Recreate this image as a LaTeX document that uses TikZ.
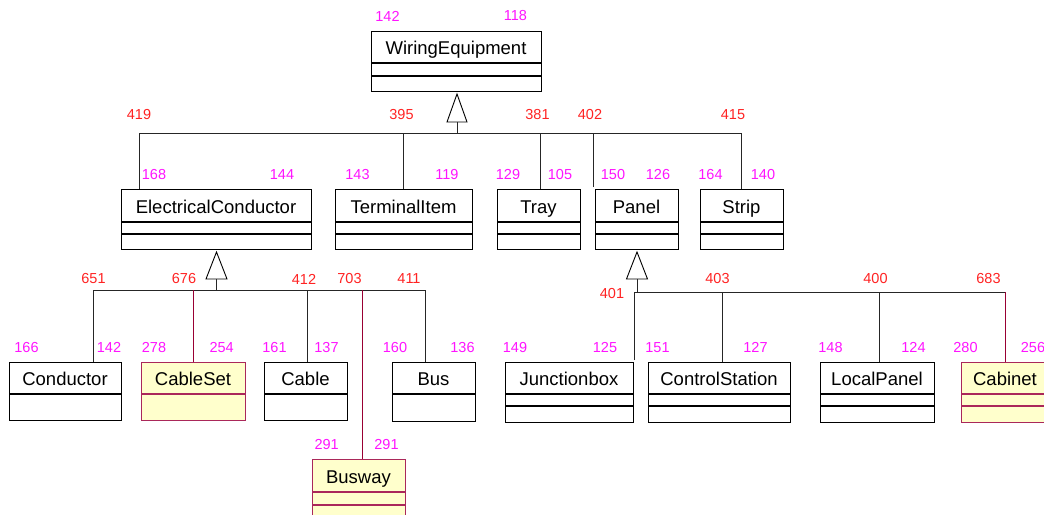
\documentclass[tikz,border=0pt]{standalone}
\usepackage{fontspec}
\setmainfont{Liberation Sans}
\usetikzlibrary{calc}
\definecolor{numred}{RGB}{255,35,35}
\definecolor{nummag}{RGB}{255,20,255}
\definecolor{maroon}{RGB}{153,0,51}
\definecolor{yborder}{RGB}{170,40,90}
\definecolor{cyellow}{RGB}{255,255,204}
\tikzset{
  cname/.style={draw, line width=1pt, inner sep=0pt, anchor=north,
    font=\fontsize{18.5}{20}\selectfont, text height=15pt, text depth=0pt},
  ccomp/.style={draw, line width=1pt, inner sep=0pt, anchor=north},
  yel/.style={fill=cyellow, draw=yborder},
  rnum/.style={text=numred, font=\fontsize{14.5}{16}\selectfont, inner sep=0pt},
  mnum/.style={text=nummag, font=\fontsize{14.5}{16}\selectfont, inner sep=0pt},
  conn/.style={line width=0.9pt, draw=black!85},
  mconn/.style={line width=0.9pt, draw=maroon},
  gen/.style={draw=black, fill=white, line width=0.9pt}
}
\begin{document}
\begin{tikzpicture}[x=1pt,y=-1pt]
\clip (0,0) rectangle (1044,514);
\fill[white] (0,0) rectangle (1044,514);

% ---------- level 0
\node[cname, minimum width=170, minimum height=31] (we) at (456,31) {WiringEquipment};
\node[ccomp, minimum width=170, minimum height=12] (we1) at (we.south) {};
\node[ccomp, minimum width=170, minimum height=15] (we2) at (we1.south) {};

% ---------- level 1
\node[cname, minimum width=190, minimum height=32] (ec) at (216,189) {ElectricalConductor};
\node[ccomp, minimum width=190, minimum height=11] (ec1) at (ec.south) {};
\node[ccomp, minimum width=190, minimum height=15] (ec2) at (ec1.south) {};

\node[cname, minimum width=137, minimum height=32] (ti) at (403.5,189) {TerminalItem};
\node[ccomp, minimum width=137, minimum height=11] (ti1) at (ti.south) {};
\node[ccomp, minimum width=137, minimum height=15] (ti2) at (ti1.south) {};

\node[cname, minimum width=83, minimum height=32] (tr) at (538.5,189) {Tray};
\node[ccomp, minimum width=83, minimum height=11] (tr1) at (tr.south) {};
\node[ccomp, minimum width=83, minimum height=15] (tr2) at (tr1.south) {};

\node[cname, minimum width=83, minimum height=32] (pa) at (636.5,189) {Panel};
\node[ccomp, minimum width=83, minimum height=11] (pa1) at (pa.south) {};
\node[ccomp, minimum width=83, minimum height=15] (pa2) at (pa1.south) {};

\node[cname, minimum width=83, minimum height=32] (st) at (741.5,189) {Strip};
\node[ccomp, minimum width=83, minimum height=11] (st1) at (st.south) {};
\node[ccomp, minimum width=83, minimum height=15] (st2) at (st1.south) {};

% ---------- level 2 (under ElectricalConductor)
\node[cname, minimum width=112, minimum height=31] (co) at (65,362) {Conductor};
\node[ccomp, minimum width=112, minimum height=26] (co1) at (co.south) {};

\node[cname, yel, minimum width=104, minimum height=31] (cs) at (193,362) {CableSet};
\node[ccomp, yel, minimum width=104, minimum height=26] (cs1) at (cs.south) {};

\node[cname, minimum width=83, minimum height=31] (ca) at (305.5,362) {Cable};
\node[ccomp, minimum width=83, minimum height=26] (ca1) at (ca.south) {};

\node[cname, minimum width=83, minimum height=31] (bu) at (433.5,362) {Bus};
\node[ccomp, minimum width=83, minimum height=27] (bu1) at (bu.south) {};

\node[cname, yel, minimum width=93, minimum height=32] (bw) at (358.5,459) {Busway};
\node[ccomp, yel, minimum width=93, minimum height=12] (bw1) at (bw.south) {};
\node[ccomp, yel, minimum width=93, minimum height=16] (bw2) at (bw1.south) {};

% ---------- level 2 (under Panel)
\node[cname, minimum width=128, minimum height=31] (jb) at (569,362) {Junctionbox};
\node[ccomp, minimum width=128, minimum height=11] (jb1) at (jb.south) {};
\node[ccomp, minimum width=128, minimum height=16] (jb2) at (jb1.south) {};

\node[cname, minimum width=142, minimum height=31] (cst) at (719,362) {ControlStation};
\node[ccomp, minimum width=142, minimum height=11] (cst1) at (cst.south) {};
\node[ccomp, minimum width=142, minimum height=16] (cst2) at (cst1.south) {};

\node[cname, minimum width=114, minimum height=31] (lp) at (877,362) {LocalPanel};
\node[ccomp, minimum width=114, minimum height=11] (lp1) at (lp.south) {};
\node[ccomp, minimum width=114, minimum height=16] (lp2) at (lp1.south) {};

\node[cname, yel, minimum width=88, minimum height=31] (cb) at (1005,362) {Cabinet};
\node[ccomp, yel, minimum width=88, minimum height=11] (cb1) at (cb.south) {};
\node[ccomp, yel, minimum width=88, minimum height=16] (cb2) at (cb1.south) {};

% ---------- generalisation: WiringEquipment
\coordinate (t0) at ($(we2.south)+(1,2)$);
\coordinate (t0b) at ($(t0)+(0,28)$);
\coordinate (b0) at (457,133);
\coordinate (ecA) at ($(ec.north west)+(19,0)$);
\coordinate (tiA) at (ti.north);
\coordinate (trA) at ($(tr.north)+(1.5,0)$);
\coordinate (paA) at ($(pa.north west)+(-1.5,-2)$);
\coordinate (stA) at (st.north);
\draw[conn] (ecA |- b0) -- (stA |- b0);
\foreach \c in {ecA,tiA,trA,paA,stA} \draw[conn] (\c) -- (\c |- b0);
\draw[conn] (t0b) -- (b0);
\draw[gen] (t0) -- ($(t0b)+(10,0)$) -- ($(t0b)+(-10,0)$) -- cycle;

% ---------- generalisation: ElectricalConductor
\coordinate (t1) at ($(ec2.south)+(0.5,2)$);
\coordinate (t1b) at ($(t1)+(0,27)$);
\coordinate (b1) at (216.5,290);
\coordinate (coA) at ($(co.north)+(28,0)$);
\coordinate (csA) at (cs.north);
\coordinate (caA) at ($(ca.north)+(1.5,0)$);
\coordinate (buA) at ($(bu.north)+(-8.5,0)$);
\coordinate (bwA) at ($(bw.north)+(3.5,0)$);
\draw[conn] (coA |- b1) -- (buA |- b1);
\foreach \c in {coA,caA,buA} \draw[conn] (\c) -- (\c |- b1);
\draw[mconn] (csA) -- (csA |- b1);
\draw[mconn] (bwA) -- (bwA |- b1);
\draw[conn] (t1b) -- (b1);
\draw[gen] (t1) -- ($(t1b)+(10.5,0)$) -- ($(t1b)+(-10.5,0)$) -- cycle;

% ---------- generalisation: Panel
\coordinate (t2) at ($(pa2.south)+(0.5,2)$);
\coordinate (t2b) at ($(t2)+(0,27)$);
\coordinate (b2) at (637,292);
\coordinate (jbA) at ($(jb.north east)+(1,-2)$);
\coordinate (cstA) at ($(cst.north)+(3,0)$);
\coordinate (lpA) at ($(lp.north)+(2,0)$);
\coordinate (cbA) at (cb.north);
\draw[conn] (jbA |- b2) -- (cbA |- b2);
\foreach \c in {jbA,cstA,lpA} \draw[conn] (\c) -- (\c |- b2);
\draw[mconn] (cbA) -- (cbA |- b2);
\draw[conn] (t2b) -- (b2);
\draw[gen] (t2) -- ($(t2b)+(10.5,0)$) -- ($(t2b)+(-10.5,0)$) -- cycle;

% ---------- numbers
\node[mnum] (n1) at (387.5,16) {142};
\node[mnum] (n2) at (515.5,16) {118};

\node[rnum] (n3) at (139,114.5) {419};
\node[rnum] (n4) at (401.5,114.5) {395};
\node[rnum] (n5) at (537.5,114.5) {381};
\node[rnum] (n6) at (590,114.5) {402};
\node[rnum] (n7) at (733,114.5) {415};

\node[mnum] (n8) at (154,174.3) {168};
\node[mnum] (n9) at (282,174.3) {144};
\node[mnum] (n10) at (357.5,174.3) {143};
\node[mnum] (n11) at (447,174.3) {119};
\node[mnum] (n12) at (508,174.3) {129};
\node[mnum] (n13) at (560,174.3) {105};
\node[mnum] (n14) at (613,174.3) {150};
\node[mnum] (n15) at (658,174.3) {126};
\node[mnum] (n16) at (710.5,174.3) {164};
\node[mnum] (n17) at (763,174.3) {140};

\node[rnum] (n18) at (93.5,279) {651};
\node[rnum] (n19) at (184,279) {676};
\node[rnum] (n20) at (304,279) {412};
\node[rnum] (n21) at (349.5,279) {703};
\node[rnum] (n22) at (409,279) {411};
\node[rnum] (n23) at (612,294) {401};
\node[rnum] (n24) at (717.5,279) {403};
\node[rnum] (n25) at (875.5,279) {400};
\node[rnum] (n26) at (988.5,279) {683};

\node[mnum] (n27) at (26.5,347.5) {166};
\node[mnum] (n28) at (109,347.5) {142};
\node[mnum] (n29) at (154,347.5) {278};
\node[mnum] (n30) at (221.7,347.5) {254};
\node[mnum] (n31) at (274.5,347.5) {161};
\node[mnum] (n32) at (326.5,347.5) {137};
\node[mnum] (n33) at (395,347.5) {160};
\node[mnum] (n34) at (462.5,347.5) {136};
\node[mnum] (n35) at (515,347.5) {149};
\node[mnum] (n36) at (605,347.5) {125};
\node[mnum] (n37) at (657.5,347.5) {151};
\node[mnum] (n38) at (755.5,347.5) {127};
\node[mnum] (n39) at (830.5,347.5) {148};
\node[mnum] (n40) at (913.5,347.5) {124};
\node[mnum] (n41) at (965.5,347.5) {280};
\node[mnum] (n42) at (1033,347.5) {256};

\node[mnum] (n43) at (326.7,445) {291};
\node[mnum] (n44) at (386.5,445) {291};
\end{tikzpicture}
\end{document}
